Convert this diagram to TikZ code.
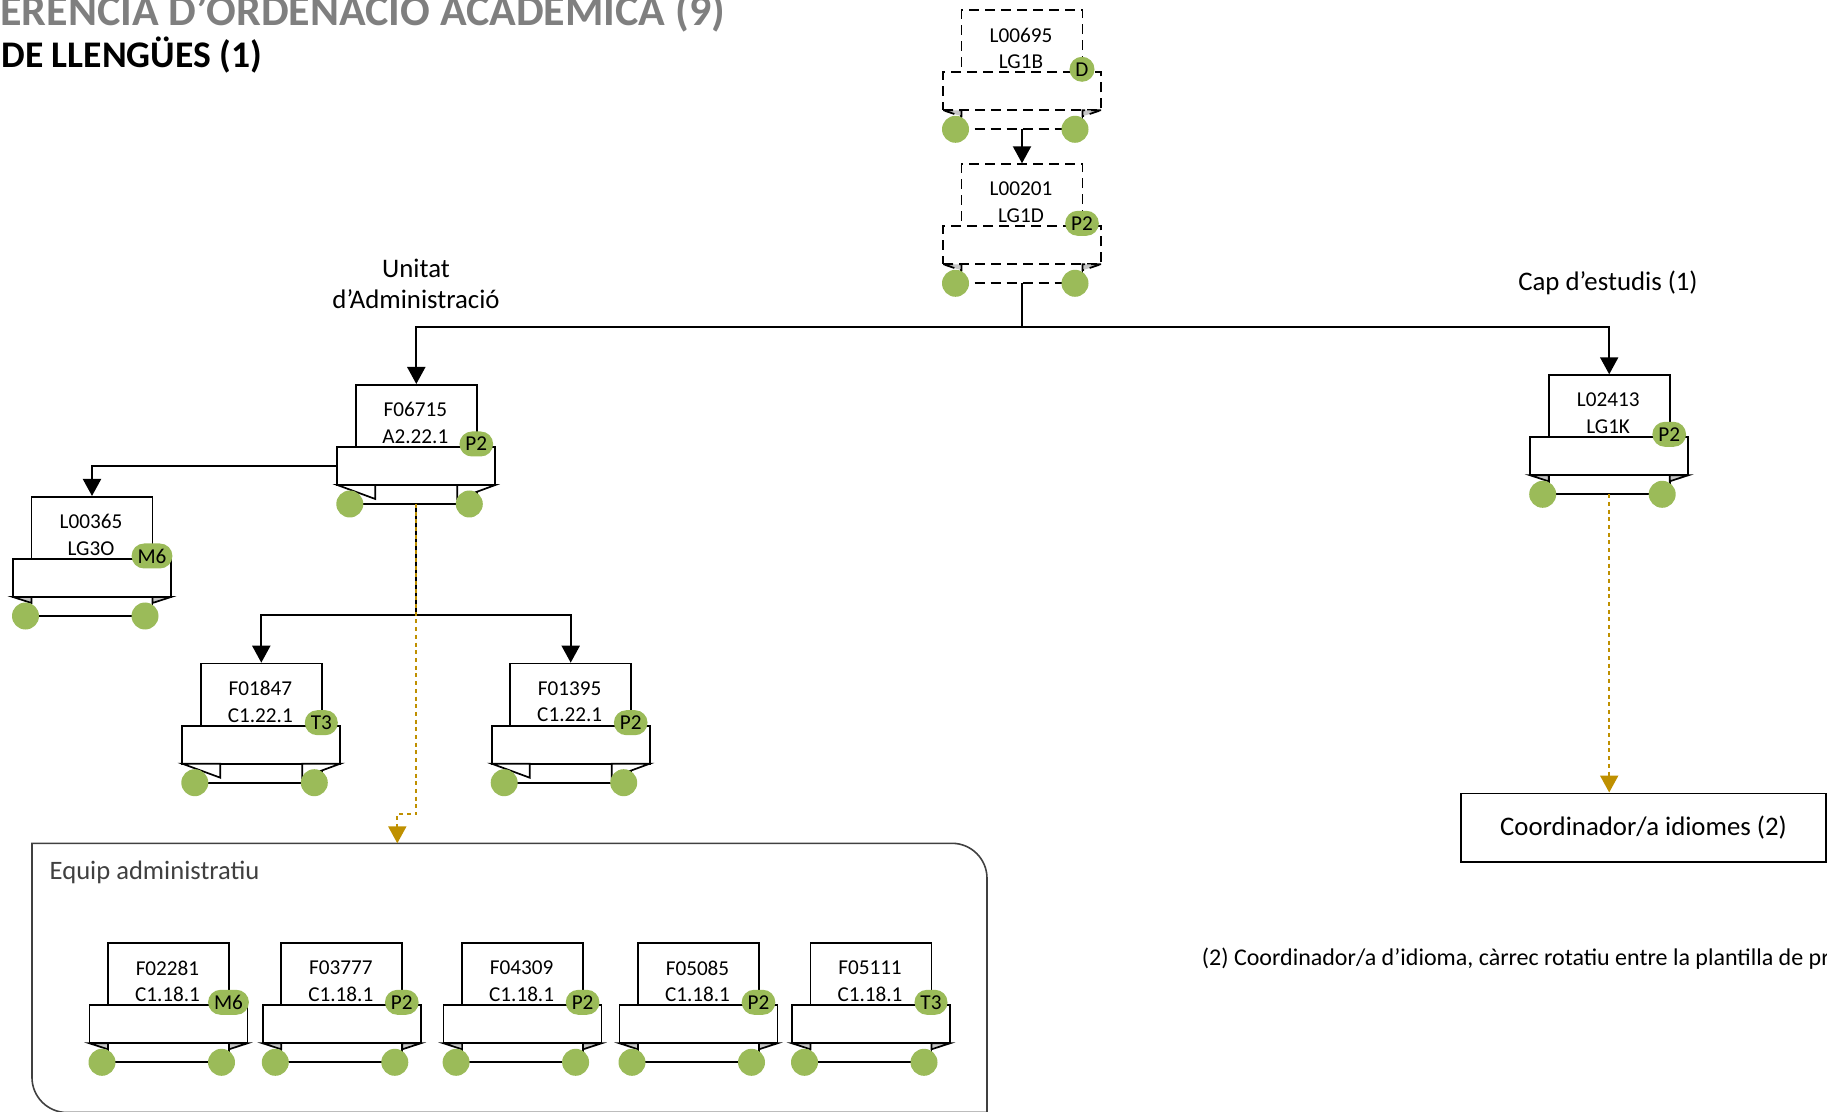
\documentclass[tikz,border=0pt]{standalone}
\usepackage{fontspec}
\setmainfont{Carlito}
\usetikzlibrary{arrows.meta,positioning}

\definecolor{leaf}{HTML}{9BBB59}
\definecolor{ochre}{HTML}{BF9000}
\definecolor{slate}{HTML}{404040}
\definecolor{ash}{HTML}{7F7F7F}

% one post: box, ribbon, flaps, wheels, badge
\newcommand{\post}[6][]{%
  \begin{scope}[shift={#3}, flapsmall, #1]
    \node[postbox] (#2) at (0,0) {};
    \node[ribbon] (#2-rib) at (0,82) {};
    \draw[postline] (-60.5,101) -- (-60.5,120) -- (60.5,120) -- (60.5,101);
    \draw[flap] (-79,101) -- (-\flapx,101) -- (-\flapx,101+\flapy) -- cycle;
    \draw[flap] (79,101) -- (\flapx,101) -- (\flapx,101+\flapy) -- cycle;
    \coordinate (#2-foot) at (0,120);
    \node[wheel] (#2-l) at (-66.5,120) {};
    \node[wheel] (#2-r) at (53,120) {};
    \node[postname] (#2-txt) at (-1,39) {#4\\#5};
    \node[badge] (#2-bdg) at (60,60) {#6};
  \end{scope}}

\begin{document}
\begin{tikzpicture}[
    x=0.5pt, y=-0.5pt,
    postline/.style={line width=0.85pt},
    postbox/.style={draw, postline, anchor=north, minimum width=60.5pt,
      minimum height=31.5pt, inner sep=0pt},
    ribbon/.style={draw, postline, fill=white, minimum width=79pt,
      minimum height=19pt, inner sep=0pt},
    flap/.style={postline, fill=\flapcol},
    flapsmall/.code={\def\flapx{60.5}\def\flapy{6}\def\flapcol{gray!45}},
    flapopen/.code={\def\flapx{41}\def\flapy{14}\def\flapcol{white}},
    vacant/.style={postline/.append style={dash pattern=on 5pt off 3pt}},
    wheel/.style={circle, fill=leaf, minimum size=13.5pt, inner sep=0pt},
    badge/.style={fill=leaf, rounded corners=6.25pt, minimum height=12.5pt,
      minimum width=12.5pt, inner xsep=3pt, inner ysep=0pt,
      font=\fontsize{10.6}{12}\selectfont},
    postname/.style={align=center, inner sep=0pt, font=\fontsize{10.6}{13.3}\selectfont},
    caption/.style={align=center, inner sep=0pt, font=\fontsize{13.4}{15.75}\selectfont},
    plain/.style={line width=1pt},
    link/.style={plain, -{Triangle[width=9pt,length=8.5pt]}},
    goldlink/.style={ochre, line width=1.1pt, dash pattern=on 2pt off 1.85pt,
      -{Triangle[width=9pt,length=8.5pt]}},
  ]
  \path[use as bounding box, clip] (0,0) rectangle (1827,1112);

  % titles
  \node[anchor=base west, inner sep=0pt, ash, font=\fontsize{22}{26}\selectfont\bfseries]
    (head) at (0,25.6) {ERENCIA D’ORDENACIO ACADEMICA (9)};
  \node[anchor=base west, inner sep=0pt, font=\fontsize{18.8}{22}\selectfont\bfseries]
    (subhead) at (1,67.6) {DE LLENGÜES (1)};

  % posts
  \post[vacant]{l00695}{(1022,9.3)}{L00695}{LG1B}{D}
  \post[vacant]{l00201}{(1022,163.3)}{L00201}{LG1D}{P2}
  \post[flapopen]{f06715}{(416.3,384)}{F06715}{A2.22.1}{P2}
  \post{l00365}{(92,496)}{L00365}{LG3O}{M6}
  \post[flapopen]{f01847}{(261.3,662.7)}{F01847}{C1.22.1}{T3}
  \post[flapopen]{f01395}{(570.7,662.7)}{F01395}{C1.22.1}{P2}
  \post{l02413}{(1609.2,374.3)}{L02413}{LG1K}{P2}

  % team frame
  \draw[slate, line width=0.8pt] (32,843.3) -- (952,843.3)
    .. controls (971.3,843.3) and (987,859) .. (987,878.3) -- (987,1112.5)
    -- (67,1112.5) .. controls (47.7,1112.5) and (32,1096.8) .. (32,1077.5) -- cycle;
  \coordinate (team) at (32,843.3);
  \node[anchor=base west, inner sep=0pt, slate, font=\fontsize{13.3}{15}\selectfont]
    (team-lbl) at (49.3,879) {Equip administratiu};
  \foreach \id/\code/\x/\g in {f02281/F02281/168.5/M6, f03777/F03777/341.8/P2,
      f04309/F04309/522.6/P2, f05085/F05085/698.5/P2, f05111/F05111/871/T3}
    {\post{\id}{(\x,942.3)}{\code}{C1.18.1}{\g}}

  % coordinator and texts
  \node[draw, line width=0.8pt, minimum width=182.5pt, minimum height=34.2pt, inner sep=0pt,
    font=\fontsize{13.4}{16}\selectfont] (coord) at (1643.5,827.5) {Coordinador/a idiomes (2)};
  \node[caption] (unitat) at (416,283.7) {Unitat\\d’Administració};
  \node[caption] (cap) at (1608,283) {Cap d’estudis (1)};
  \node[anchor=base west, inner sep=0pt, font=\fontsize{12}{14}\selectfont]
    (note) at (1201.5,965) {(2) Coordinador/a d’idioma, càrrec rotatiu entre la plantilla de pr};

  % connectors
  \coordinate (hub) at (1022,327.4);
  \coordinate (fork) at (416.3,614.7);
  \coordinate (bend) at (397.3,814.3);
  \draw[link] (l00695-foot) -- (l00201.north);
  \draw[plain] (l00201-foot) -- (hub);
  \draw[link] (hub) -| (f06715.north);
  \draw[link] (hub) -| (l02413.north);
  \draw[link] (f06715-rib.west) -| (l00365.north);
  \draw[plain] (f06715-foot) -- (fork);
  \draw[link] (fork) -| (f01847.north);
  \draw[link] (fork) -| (f01395.north);
  \draw[goldlink] (f06715-foot) |- (bend) -- (bend |- team);
  \draw[goldlink] (l02413-foot) -- (l02413-foot |- coord.north);
\end{tikzpicture}
\end{document}
